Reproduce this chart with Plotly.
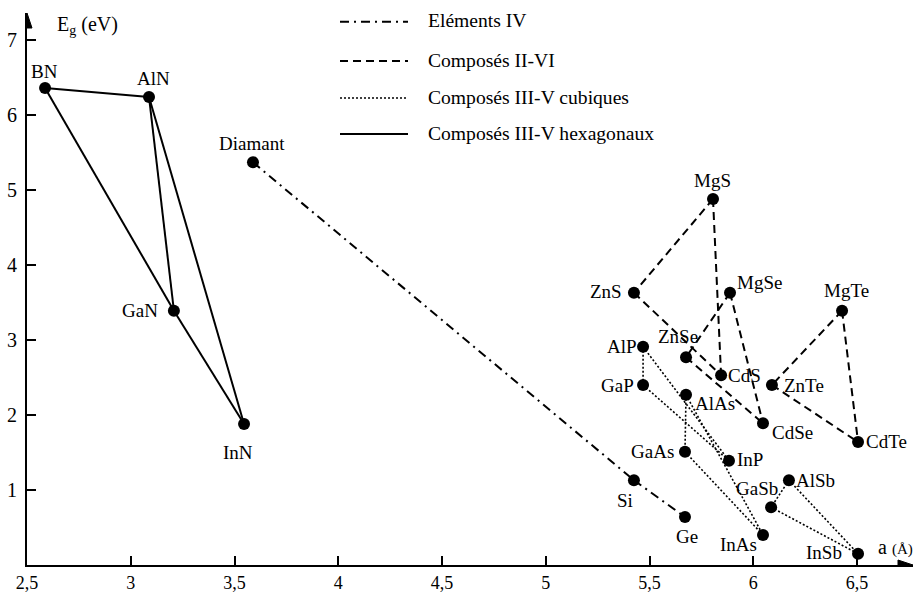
import plotly.graph_objects as go

# Lattice constant a (Å) and band gap Eg (eV) of each semiconductor
names = ["BN", "AlN", "GaN", "InN", "Diamant", "Si", "Ge",
         "MgS", "ZnS", "MgSe", "MgTe", "ZnSe", "CdS", "ZnTe", "CdSe", "CdTe",
         "AlP", "GaP", "AlAs", "GaAs", "InP", "AlSb", "GaSb", "InAs", "InSb"]
lattice = [2.587, 3.088, 3.208, 3.546, 3.589, 5.425, 5.671,
           5.806, 5.425, 5.888, 6.428, 5.676, 5.845, 6.090, 6.047, 6.505,
           5.469, 5.469, 5.676, 5.671, 5.883, 6.172, 6.086, 6.047, 6.505]
gap = [6.36, 6.24, 3.39, 1.88, 5.37, 1.13, 0.64,
       4.88, 3.63, 3.63, 3.39, 2.77, 2.53, 2.40, 1.89, 1.64,
       2.91, 2.40, 2.27, 1.51, 1.39, 1.13, 0.77, 0.40, 0.15]

# Alloy lines joining the compounds of each family
edges_iv = [("Diamant", "Si"), ("Si", "Ge")]
edges_ii_vi = [("MgS", "ZnS"), ("MgS", "CdS"), ("ZnS", "CdS"),
               ("MgSe", "ZnSe"), ("MgSe", "CdSe"), ("ZnSe", "CdSe"),
               ("MgTe", "ZnTe"), ("MgTe", "CdTe"), ("ZnTe", "CdTe")]
edges_iii_v_cub = [("AlP", "GaP"), ("AlP", "InP"), ("GaP", "InP"),
                   ("AlAs", "GaAs"), ("AlAs", "InAs"), ("GaAs", "InAs"),
                   ("AlSb", "GaSb"), ("AlSb", "InSb"), ("GaSb", "InSb")]
edges_iii_v_hex = [("BN", "AlN"), ("BN", "GaN"), ("AlN", "GaN"),
                   ("AlN", "InN"), ("GaN", "InN")]

family_labels = ["Eléments IV", "Composés II-VI",
                 "Composés III-V cubiques", "Composés III-V hexagonaux"]

x_ticks = [2.5, 3, 3.5, 4, 4.5, 5, 5.5, 6, 6.5]
x_ticktext = ["2,5", "3", "3,5", "4", "4,5", "5", "5,5", "6", "6,5"]
y_ticks = [1, 2, 3, 4, 5, 6, 7]

# --- styling -------------------------------------------------------------
W, H = 914, 592
ML, MR, MT, MB = 27, 1, 13, 27
PW, PH = W - ML - MR, H - MT - MB
SERIF = "'Liberation Serif', 'Times New Roman', 'DejaVu Serif', serif"
family_dash = ["9px,5px,2px,5px", "8px,5px", "2px,2px", "solid"]
family_width = [2, 2, 1.6, 2]

# label offsets (dx, dy) in pixels from the dot centre, y downward
label_offset = {
    "BN": (-1, -17), "AlN": (4, -19), "GaN": (-34, 0), "InN": (-6, 28),
    "Diamant": (-1, -19), "Si": (-9, 20), "Ge": (2, 19),
    "MgS": (-1, -19), "ZnS": (-28, -1), "MgSe": (29, -10), "MgTe": (4, -20),
    "ZnSe": (-8, -21), "CdS": (23, 0), "ZnTe": (32, 0), "CdSe": (29, 9),
    "CdTe": (28, -1), "AlP": (-21, 0), "GaP": (-26, 0), "AlAs": (29, 9),
    "GaAs": (-32, 0), "InP": (21, -1), "GaSb": (-14, -19), "AlSb": (27, 0),
    "InAs": (-25, 9), "InSb": (-34, -1),
}


def px_to_paper(px, py):
    return (px - ML) / PW, (H - MB - py) / PH


idx = {n: i for i, n in enumerate(names)}
fig = go.Figure()

for edges, dash, width in zip(
        [edges_iv, edges_ii_vi, edges_iii_v_cub, edges_iii_v_hex],
        family_dash, family_width):
    xs, ys = [], []
    for a, b in edges:
        xs += [lattice[idx[a]], lattice[idx[b]], None]
        ys += [gap[idx[a]], gap[idx[b]], None]
    fig.add_trace(go.Scatter(x=xs, y=ys, mode="lines", hoverinfo="skip",
                             line=dict(color="black", width=width, dash=dash),
                             showlegend=False))

fig.add_trace(go.Scatter(x=lattice, y=gap, mode="markers", text=names,
                         marker=dict(color="black", size=12),
                         showlegend=False, cliponaxis=False))

annotations = []
for n, a, e in zip(names, lattice, gap):
    dx, dy = label_offset[n]
    annotations.append(dict(x=a, y=e, xref="x", yref="y", text=n,
                            showarrow=False, xanchor="center",
                            yanchor="middle", xshift=dx, yshift=-dy,
                            font=dict(family=SERIF, size=19, color="black")))

x_max = 2.5 + PW / 207.5
y_max = PH / 75.0

# axis arrowheads as small filled triangles anchored at the axis ends
shapes = [
    dict(type="path", xref="x", yref="y", xsizemode="pixel",
         ysizemode="pixel", xanchor=x_max, yanchor=0,
         path="M 0 0 L -15 5 L -15 -5 Z", fillcolor="black",
         line=dict(color="black", width=1)),
    dict(type="path", xref="x", yref="y", xsizemode="pixel",
         ysizemode="pixel", xanchor=2.5, yanchor=y_max,
         path="M 0 0 L -5 -15 L 5 -15 Z", fillcolor="black",
         line=dict(color="black", width=1)),
]

# axis titles
tx, ty = px_to_paper(55, 26)
annotations.append(dict(x=tx, y=ty, xref="paper", yref="paper",
                        text="E<sub>g</sub> (eV)", showarrow=False,
                        xanchor="left", yanchor="middle",
                        font=dict(family=SERIF, size=20, color="black")))
tx, ty = px_to_paper(876, 547)
annotations.append(dict(x=tx, y=ty, xref="paper", yref="paper",
                        text="a <span style='font-size:15px'>(Å)</span>",
                        showarrow=False, xanchor="left", yanchor="middle",
                        font=dict(family=SERIF, size=20, color="black")))

# family key drawn in the upper middle
row_y = [21.7, 61, 98, 134]
for lab, dash, width, ry in zip(family_labels, family_dash, family_width, row_y):
    x0, y0 = px_to_paper(340, ry)
    x1, _ = px_to_paper(408, ry)
    shapes.append(dict(type="line", xref="paper", yref="paper",
                       x0=x0, x1=x1, y0=y0, y1=y0,
                       line=dict(color="black", width=width, dash=dash)))
    tx, ty = px_to_paper(426, ry - 1)
    annotations.append(dict(x=tx, y=ty, xref="paper", yref="paper", text=lab,
                            showarrow=False, xanchor="left", yanchor="middle",
                            font=dict(family=SERIF, size=19.6, color="black")))

fig.update_layout(
    width=W, height=H, template="none",
    font=dict(family=SERIF, color="black"),
    margin=dict(l=ML, r=MR, t=MT, b=MB, pad=0),
    paper_bgcolor="white", plot_bgcolor="white",
    annotations=annotations, shapes=shapes, showlegend=False,
    xaxis=dict(range=[2.5, x_max], tickvals=x_ticks, ticktext=x_ticktext,
               showgrid=False, zeroline=False, showline=True,
               linecolor="black", linewidth=2, ticks="inside", ticklen=9,
               tickwidth=2, tickcolor="black", automargin=False,
               tickfont=dict(family=SERIF, size=18, color="black")),
    yaxis=dict(range=[0, y_max], tickvals=y_ticks,
               showgrid=False, zeroline=False, showline=True,
               linecolor="black", linewidth=2, ticks="inside", ticklen=9,
               tickwidth=2, tickcolor="black", automargin=False,
               ticklabelstandoff=4,
               tickfont=dict(family=SERIF, size=20, color="black")),
)

fig.write_html("out.html")
